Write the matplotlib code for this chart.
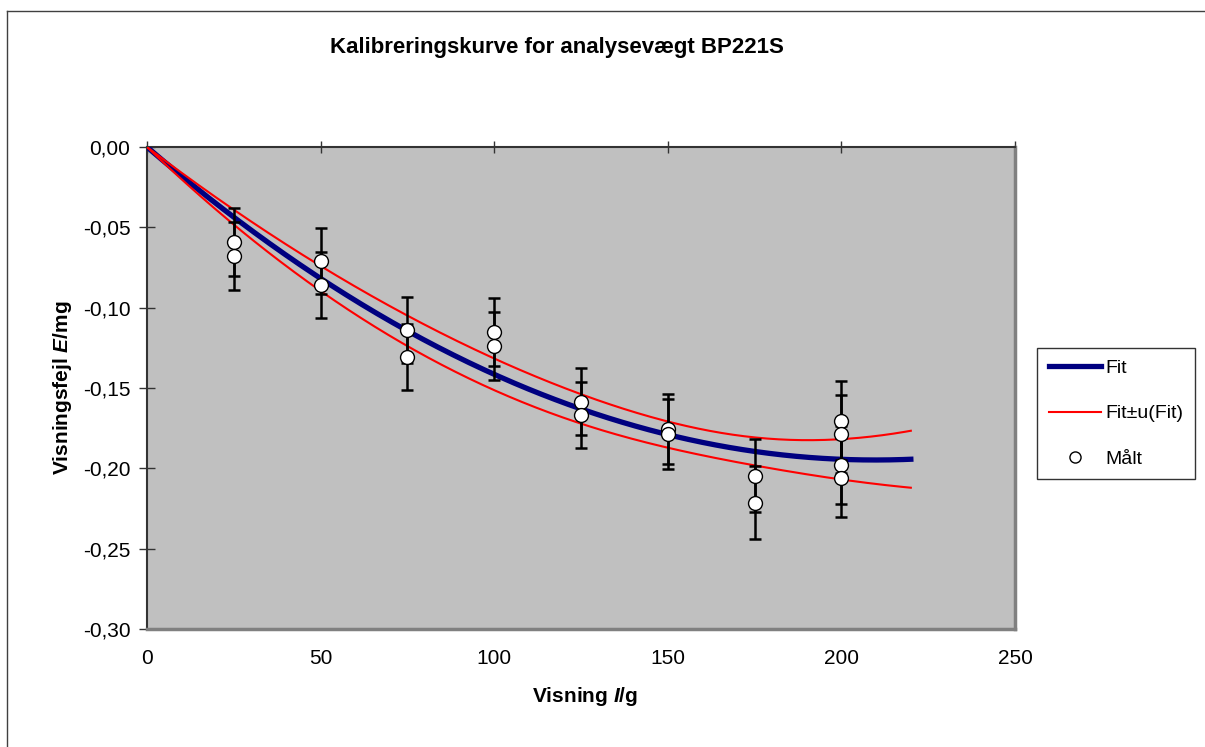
import numpy as np
import matplotlib.pyplot as plt
from matplotlib.lines import Line2D
from matplotlib.ticker import FuncFormatter, MultipleLocator

plt.rcParams['font.family'] = 'Liberation Sans'
plt.rcParams['mathtext.fontset'] = 'custom'
plt.rcParams['mathtext.it'] = 'Liberation Sans:italic:bold'
plt.rcParams['mathtext.rm'] = 'Liberation Sans:bold'

# maalte punkter (visning i g, visningsfejl i mg, usikkerhed i mg)
visning = [25, 25, 50, 50, 75, 75, 100, 100, 125, 125, 150, 150, 175, 175,
           200, 200, 200, 200]
fejl = [-0.0591, -0.0678, -0.0710, -0.0859, -0.1139, -0.1307, -0.1153, -0.1236,
        -0.1585, -0.1668, -0.1757, -0.1786, -0.2046, -0.2213,
        -0.1703, -0.1786, -0.1979, -0.2058]
usikkerhed = [0.021, 0.021, 0.0207, 0.0207, 0.0207, 0.0207, 0.0212, 0.0212,
              0.0208, 0.0208, 0.0218, 0.0218, 0.0226, 0.0226,
              0.0245, 0.0245, 0.0245, 0.0245]

fit_slut = 220      # fit tegnes op til 220 g
k = 1.7             # daekningsfaktor for fit-baandet

x = np.array(visning, dtype=float)
y = np.array(fejl)

# andengradsfit gennem origo: E = a*I + b*I^2
X = np.column_stack([x, x**2])
coef = np.linalg.lstsq(X, y, rcond=None)[0]
res = y - X @ coef
s2 = res @ res / (len(y) - 2)
cov = s2 * np.linalg.inv(X.T @ X)

xf = np.linspace(0, fit_slut, 400)
Xf = np.column_stack([xf, xf**2])
yf = Xf @ coef
uf = np.sqrt(np.einsum('ij,jk,ik->i', Xf, cov, Xf))

W, H = 1205, 747
fig = plt.figure(figsize=(W / 100, H / 100), dpi=100)
ax = fig.add_axes([147 / W, 1 - 629 / H, (1015 - 147) / W, (629 - 147) / H])
ax.set_facecolor('#C0C0C0')

ax.plot(xf, yf, color='#000080', lw=3.8, zorder=3)
ax.plot(xf, yf + k * uf, color='#FF0000', lw=1.5, zorder=4)
ax.plot(xf, yf - k * uf, color='#FF0000', lw=1.5, zorder=4)
ax.errorbar(x, y, yerr=usikkerhed, fmt='none', ecolor='black', elinewidth=1.8,
            capsize=4.5, capthick=1.8, zorder=5)
ax.plot(x, y, 'o', ms=10, mfc='white', mec='black', mew=1, zorder=6)

ax.set_xlim(0, 250)
ax.set_ylim(-0.30, 0)
ax.xaxis.set_major_locator(MultipleLocator(50))
ax.yaxis.set_major_locator(MultipleLocator(0.05))
ax.yaxis.set_major_formatter(FuncFormatter(lambda v, p: f'{round(v, 2) + 0:.2f}'.replace('.', ',')))

for side in ['top', 'left']:
    ax.spines[side].set_color('#333333')
    ax.spines[side].set_linewidth(1.5)
for side in ['right', 'bottom']:
    ax.spines[side].set_color('#808080')
    ax.spines[side].set_linewidth(2.5)

ax.tick_params(axis='x', top=True, bottom=False, labeltop=False, labelbottom=True,
               direction='inout', length=9, width=1, color='#333333',
               labelsize=15, pad=10)
ax.tick_params(axis='y', direction='inout', length=12, width=1, color='#333333',
               labelsize=15, pad=6)

fig.text(557 / W, 1 - 47 / H, 'Kalibreringskurve for analysevægt BP221S',
         ha='center', va='center', fontsize=16, fontweight='bold')
fig.text(585 / W, 1 - 697 / H, r'Visning $I$/g', ha='center', va='center',
         fontsize=15, fontweight='bold')
fig.text(63 / W, 1 - 388 / H, r'Visningsfejl $E$/mg', ha='center', va='center',
         fontsize=15, fontweight='bold', rotation=90)

handles = [Line2D([], [], color='#000080', lw=3.8),
           Line2D([], [], color='#FF0000', lw=1.5),
           Line2D([], [], ls='none', marker='o', ms=8, mfc='white', mec='black', mew=1)]
leg = fig.legend(handles, ['Fit', 'Fit±u(Fit)', 'Målt'], loc='upper left',
                 bbox_to_anchor=(1037 / W, 1 - 348 / H), fontsize=14,
                 frameon=True, fancybox=False, edgecolor='black',
                 labelspacing=1.42, handlelength=2.7, handletextpad=0.2,
                 borderpad=0.6, borderaxespad=0)
leg.get_frame().set_linewidth(1)

# ydre ramme
fig.add_artist(Line2D([7 / W, 7 / W], [0, 1 - 11 / H], color='#404040', lw=1))
fig.add_artist(Line2D([7 / W, 1], [1 - 11 / H, 1 - 11 / H], color='#404040', lw=1))

fig.savefig('out.png', dpi=100)
